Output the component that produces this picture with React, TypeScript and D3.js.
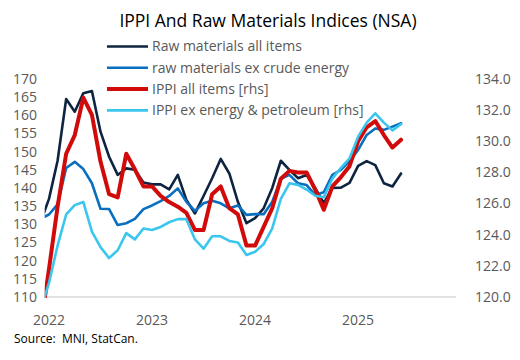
import React from "react";
import * as d3 from "d3";

// Monthly observations, Dec 2021 .. Jun 2025 (the Dec 2021 point is clipped by the axis start)
const startYear = 2021;
const startMonth = 11; // December (0-based)
const monthCount = 43;
const months: Date[] = d3.range(monthCount).map((i) => new Date(startYear, startMonth + i, 1));

const rawAll: number[] = [
  130.5, 137, 147.5, 164.5, 161, 166.1, 166.7, 155.5, 148.6, 143.6, 145.4, 145, 141.5,
  141, 141, 139.6, 143.6, 136.7, 133, 137.8, 142.7, 148, 144, 136.2, 130.3,
  131.7, 134.4, 140, 147.5, 145, 142.7, 143.6, 140, 135.8, 140, 140.1, 141.4,
  146.1, 147.4, 146.3, 141.3, 140.4, 144,
];
const rawExCrude: number[] = [
  131.5, 132.7, 135.5, 145.5, 147.2, 145.2, 141.3, 134.3, 134.2, 129.8, 130.3, 131.5, 134.2,
  135.2, 136.4, 137.8, 139.9, 136.2, 133.7, 135.8, 136.5, 135.8, 134.4, 135.2, 132.6,
  132.8, 132.8, 136.2, 142.5, 143.6, 141.3, 140.8, 138.1, 138.8, 143.6, 145, 147.4,
  150.5, 154.6, 156.4, 156, 156.9, 157.8,
];
const ippiAll: number[] = [
  118, 121.8, 125.8, 129.2, 130.4, 132.8, 131.7, 128.7, 126.6, 126.4, 129.2, 128.2, 127.1,
  127.1, 126.5, 126.1, 125.8, 125.4, 124.3, 124.3, 126.6, 127.1, 125.7, 125.3, 123.3,
  123.3, 124.5, 125.7, 127.6, 128.1, 128, 128, 126.9, 125.6, 127.1, 127.7, 128.4,
  130, 130.9, 131.3, 130.4, 129.6, 130.1,
];
const ippiExEnergy: number[] = [
  119.1, 120.9, 123.3, 125.3, 125.9, 126.1, 124.2, 123.2, 122.5, 123, 124.1, 123.7, 124.4,
  124.3, 124.5, 124.8, 125, 125, 123.7, 123.1, 123.9, 123.9, 123.6, 123.5, 122.7,
  122.9, 123.4, 124.4, 126.3, 127.3, 127.2, 126.9, 126.5, 126.4, 127.6, 128.3, 128.9,
  130.3, 131.2, 131.8, 131.2, 130.7, 131.1,
];

const leftTicks: number[] = [110, 115, 120, 125, 130, 135, 140, 145, 150, 155, 160, 165, 170];
const rightTicks: number[] = [120, 122, 124, 126, 128, 130, 132, 134];
const yearLabels: number[] = [2022, 2023, 2024, 2025];

const seriesNames: string[] = [
  "Raw materials all items",
  "raw materials ex crude energy",
  "IPPI all items [rhs]",
  "IPPI ex energy & petroleum [rhs]",
];
const seriesColors: string[] = ["#0e2440", "#0a6fbf", "#d10a0a", "#3bc6ee"];
const seriesWidths: number[] = [2.6, 2.6, 4, 2.6];

const W = 520;
const H = 360;
const plotLeft = 44.7;
const plotRight = 456;
const plotTop = 79;
const plotBottom = 297;

// month offset from Jan 2022
const monthIndex = (d: Date) => (d.getFullYear() - 2022) * 12 + d.getMonth();

export default function App() {
  const x = d3.scaleLinear().domain([-0.5, 47.4]).range([plotLeft, plotRight]);
  const yL = d3.scaleLinear().domain([110, 170]).range([plotBottom, plotTop]);
  const yR = d3.scaleLinear().domain([120, 134]).range([plotBottom, plotTop]);

  const series = [
    { values: rawAll, y: yL },
    { values: rawExCrude, y: yL },
    { values: ippiAll, y: yR },
    { values: ippiExEnergy, y: yR },
  ];

  const font = "'Open Sans', 'Noto Sans', sans-serif";
  const gray = "#595959";

  return (
    <svg
      width={W}
      height={H}
      viewBox={`0 0 ${W} ${H}`}
      style={{ position: "absolute", left: 0, top: 0, display: "block", background: "#fff" }}
      fontFamily={font}
    >
      <defs>
        <clipPath id="plotClip">
          <rect x={plotLeft} y={plotTop - 10} width={plotRight - plotLeft} height={plotBottom - plotTop + 11} />
        </clipPath>
      </defs>
      <rect x={0} y={0} width={W} height={H} fill="#fff" />

      {/* title */}
      <text x={268} y={27} textAnchor="middle" fontSize={17.5} fill="#000">
        IPPI And Raw Materials Indices (NSA)
      </text>

      {/* baseline */}
      <line x1={plotLeft} x2={plotRight} y1={plotBottom} y2={plotBottom} stroke="#d9d9d9" strokeWidth={1.5} />

      {/* left axis */}
      {leftTicks.map((t) => (
        <text key={"l" + t} x={37} y={yL(t)} dy="0.35em" textAnchor="end" fontSize={14} fill={gray}>
          {t}
        </text>
      ))}
      {/* right axis */}
      {rightTicks.map((t) => (
        <text key={"r" + t} x={475} y={yR(t)} dy="0.35em" textAnchor="start" fontSize={14} fill={gray}>
          {t.toFixed(1)}
        </text>
      ))}
      {/* x labels */}
      {yearLabels.map((yr) => (
        <text key={"x" + yr} x={x((yr - 2022) * 12)} y={320} dy="0.35em" textAnchor="middle" fontSize={14} fill={gray}>
          {yr}
        </text>
      ))}

      {/* lines */}
      <g clipPath="url(#plotClip)">
        {series.map((s, k) => {
          const line = d3
            .line<number>()
            .x((_, i) => x(monthIndex(months[i])))
            .y((v) => s.y(v));
          return (
            <path
              key={"s" + k}
              d={line(s.values) || ""}
              fill="none"
              stroke={seriesColors[k]}
              strokeWidth={seriesWidths[k]}
              strokeLinejoin="round"
              strokeLinecap="round"
            />
          );
        })}
      </g>

      {/* legend */}
      {seriesNames.map((name, k) => {
        const ly = 46.5 + k * 21.3;
        return (
          <g key={"lg" + k}>
            <line x1={107} x2={148} y1={ly} y2={ly} stroke={seriesColors[k]} strokeWidth={seriesWidths[k]} />
            <text x={152} y={ly} dy="0.35em" fontSize={14} fill={gray}>
              {name}
            </text>
          </g>
        );
      })}

      {/* source */}
      <text x={14} y={343} fontSize={12} fill="#000" style={{ whiteSpace: "pre" }}>
        {"Source:  MNI, StatCan."}
      </text>
    </svg>
  );
}
